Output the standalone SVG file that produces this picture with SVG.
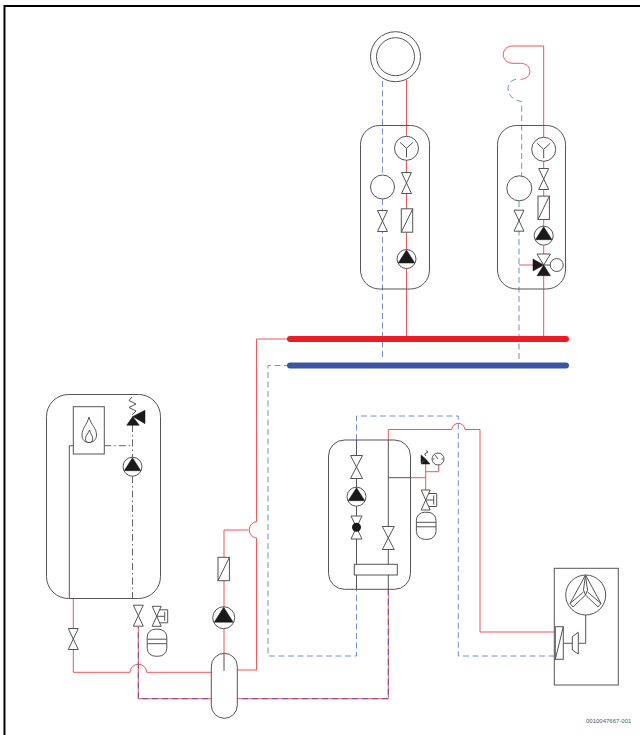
<svg xmlns="http://www.w3.org/2000/svg" width="640" height="735" viewBox="0 0 640 735">
<style>
.o{fill:#fff;stroke:#555;stroke-width:1}
.n{fill:none;stroke:#555;stroke-width:1}
.k{fill:#1a1a1a;stroke:#1a1a1a;stroke-width:.5}
.r{fill:none;stroke:#f0565e;stroke-width:1}
.b{fill:none;stroke:#7590d0;stroke-width:1;stroke-dasharray:6 3.5}
.p{fill:none;stroke:#6a4fa0;stroke-width:1;stroke-dasharray:6 4}
.d{fill:none;stroke:#666;stroke-width:1;stroke-dasharray:7 3 1.500 3}
text{font-family:"Liberation Sans",Arial,sans-serif;font-size:6px;fill:#555}
</style>
<defs>
<g id="valve"><path class="o" d="M-5-10.500H5L-5 10.500H5Z"/></g>
<g id="valve-lg"><path class="o" d="M-6-11.500H6L-6 11.500H6Z"/></g>
<g id="pump"><circle class="o" r="9.500"/><path class="k" d="M0-9L8.300 4H-8.300Z"/></g>
<g id="pump-lg"><circle class="o" r="11"/><path class="k" d="M0-10.500L9.500 4.500H-9.500Z"/></g>
<g id="yc"><circle class="o" r="12"/><path class="n" d="M0 0V9M0 0L-6.500-6M0 0L6.500-6"/></g>
<g id="hx"><rect class="o" x="-5.700" y="-11.700" width="11.400" height="23.400"/><path class="n" d="M-5.700 11.700L5.700-11.700"/></g>
<g id="evalve"><path class="o" d="M-4.500-10H4.500L-4.500 10H4.500Z"/><path class="n" d="M0 0H8M8-4.500V4.500M2.500-6.500H11V6.500H3"/></g>
<g id="vessel"><rect class="o" x="-9.800" y="-13.500" width="19.600" height="27" rx="8"/><path class="n" d="M-9.800-3.500H9.800M-9.800 1H9.800"/></g>
</defs>

<path d="M640 6H4.500V735" fill="none" stroke="#000" stroke-width="2"/>

<g id="connectors">
<path class="b" d="M382.500 81V175M382.500 199V360"/>
<path class="r" d="M406.500 80V337"/>
<path class="r" d="M543.700 46V337M543.700 46H513C500 46 500 63.300 513 63.300H520.500C533 63.300 533 79.300 520.500 79.300"/>
<path class="b" d="M516 79.300C505 81 504 99 521.700 101.500V176M519 201V360"/>
<path class="r" d="M519 265H534" stroke-width="1.500"/>
<path class="r" d="M290 339H256.500V521.700A8.200 8.200 0 0 0 256.500 538V670H237"/>
<path class="r" d="M248.500 530H224V653"/>
<path class="b" d="M290 365.500H268V656H356.500V589"/>
<path class="b" d="M356.500 440V416H458.300V656H554"/>
<path class="r" d="M388.300 440V429.500H451.700A6.700 7 0 0 1 465 429.500H480V632H555"/>
<path class="r" d="M388.300 589V698.700H138.300V627"/>
<path class="p" d="M388.300 589V698.700H138.300V627"/>
<path class="r" d="M73.300 598V672.300H130A8.300 8 0 0 1 146.700 672.300H211"/>
<path class="r" d="M410 477.700H425.700M425.700 490V464M425.700 471.700H438.700V465"/>
<path class="n" d="M388.300 477.700H410"/>
<path class="n" d="M356.500 440V589M388.300 440V589"/>
<path class="n" d="M69.300 598V445.700H73.300"/>
<path class="d" d="M104.300 445.700H132.500M132.500 425V457M132.500 476V598"/>
<path d="M290 339H566" fill="none" stroke="#ed1c24" stroke-width="6" stroke-linecap="round"/>
<path d="M290 365.500H566" fill="none" stroke="#3b54a4" stroke-width="6" stroke-linecap="round"/>
</g>

<g id="chimney"><circle class="o" cx="395.500" cy="56.700" r="25"/><circle class="o" cx="395.500" cy="56.700" r="19"/></g>

<g id="module-a">
<rect class="n" x="360.500" y="125.500" width="69" height="163.500" rx="19"/>
<use href="#yc" x="406.500" y="148.300"/>
<circle class="o" cx="382.500" cy="187" r="12"/>
<use href="#valve" x="406.500" y="183"/>
<use href="#valve" x="382.500" y="221"/>
<use href="#hx" x="407" y="220.500"/>
<use href="#pump" x="406.500" y="259"/>
</g>

<g id="module-b">
<rect class="n" x="497.500" y="125.500" width="68" height="163.500" rx="19"/>
<use href="#yc" x="543.700" y="149.300"/>
<circle class="o" cx="519.300" cy="188.300" r="12.500"/>
<use href="#valve" x="543.700" y="179"/>
<use href="#valve" x="519" y="220.700"/>
<use href="#hx" x="543.700" y="207.800"/>
<use href="#pump" x="543.700" y="235.700"/>
<path class="o" d="M537 254H550.500L543.700 265Z"/>
<path class="k" d="M543.700 265L533 259V271ZM543.700 265L550.500 275.700H537Z"/>
<path class="n" d="M543.700 265H550"/>
<circle class="o" cx="556.700" cy="265" r="6.500"/>
</g>

<g id="boiler">
<rect class="n" x="46.500" y="394.500" width="114" height="204" rx="22"/>
<rect class="o" x="73.300" y="406.700" width="31" height="47.300"/>
<path class="n" d="M89 417C87 425 82 428 82 435C82 440 85 442.500 89 442.500C93 442.500 96.500 440 96.500 435C96.500 428 91 425 89 417Z"/>
<path class="n" d="M89.500 430C88 434 85.500 436 85.500 438.500C85.500 441 87 442.500 89 442.500C91.500 442.500 92.800 441 92.800 438.500C92.800 436 90.500 434 89.500 430Z"/>
<path class="n" d="M132 397L129 400.500L136 404L129 407.500L136 411L132 415"/>
<path class="k" d="M132.700 416.500L126.700 425.300H139.300ZM132.700 416.500L145 410.300V423.700Z"/>
<use href="#pump" x="132.500" y="466.700"/>
</g>

<g id="valve-left"><use href="#valve" x="73.300" y="639"/></g>
<g id="valve-mid"><use href="#valve" x="138.300" y="615.700"/></g>
<g id="expansion-left"><use href="#evalve" x="156.700" y="616.300"/><use href="#vessel" x="157" y="642.700"/></g>

<g id="circuit-pump"><use href="#hx" x="223.700" y="569"/><use href="#pump-lg" x="223.700" y="617.700"/></g>
<g id="tank"><rect class="o" x="211.300" y="653.300" width="26" height="65" rx="13"/><path class="n" d="M224 653.300V671"/></g>

<g id="module-c">
<rect class="n" x="328.500" y="440" width="82" height="149.300" rx="16"/>
<use href="#valve-lg" x="356.500" y="467"/>
<use href="#pump" x="356.500" y="496.700"/>
<path class="o" d="M351 516H362L351 539H362Z"/>
<circle cx="356.500" cy="527.300" r="4.500" fill="#1a1a1a"/>
<use href="#valve-lg" x="388.300" y="538"/>
<rect class="o" x="354.300" y="564.300" width="43" height="10.700"/>
</g>

<g id="expansion-right">
<path class="k" d="M425.700 459L421 455V463ZM425.700 459L421 464H430Z"/>
<path class="n" d="M426 456L424.500 454L428 452L426 450.500" stroke-width=".7"/>
<circle class="o" cx="438" cy="459" r="6"/>
<path class="n" d="M438 459L435 455M433 459H434.500M441.500 459H443" stroke-width=".7"/>
<use href="#evalve" x="425.700" y="500"/>
<use href="#vessel" x="426.200" y="525.800"/>
</g>

<g id="heat-pump">
<rect class="o" x="554.300" y="568.300" width="64" height="116.700"/>
<circle class="o" cx="585.700" cy="595" r="20"/>
<path class="n" d="M585.500 575L570 603.500L573 607M585.500 575L601 603.500L598 607M585.500 575L583.500 590L585.500 595L587.500 590Z"/>
<path class="n" d="M585.500 595L573 607M585.500 595L598 607M583.500 592L570 603.500M587.500 592L601 603.500"/>
<path class="n" d="M585.700 615V643.300H578.300"/>
<path class="n" d="M563.300 643.300H572.300"/>
<path class="o" d="M572.300 636.700L578.300 632.300V654L572.300 650Z"/>
<rect class="o" x="555.300" y="626.700" width="8" height="32.600"/>
<path class="n" d="M555.300 659.300L563.300 626.700"/>
</g>

<text x="586" y="723">0010047667-001</text>
</svg>
